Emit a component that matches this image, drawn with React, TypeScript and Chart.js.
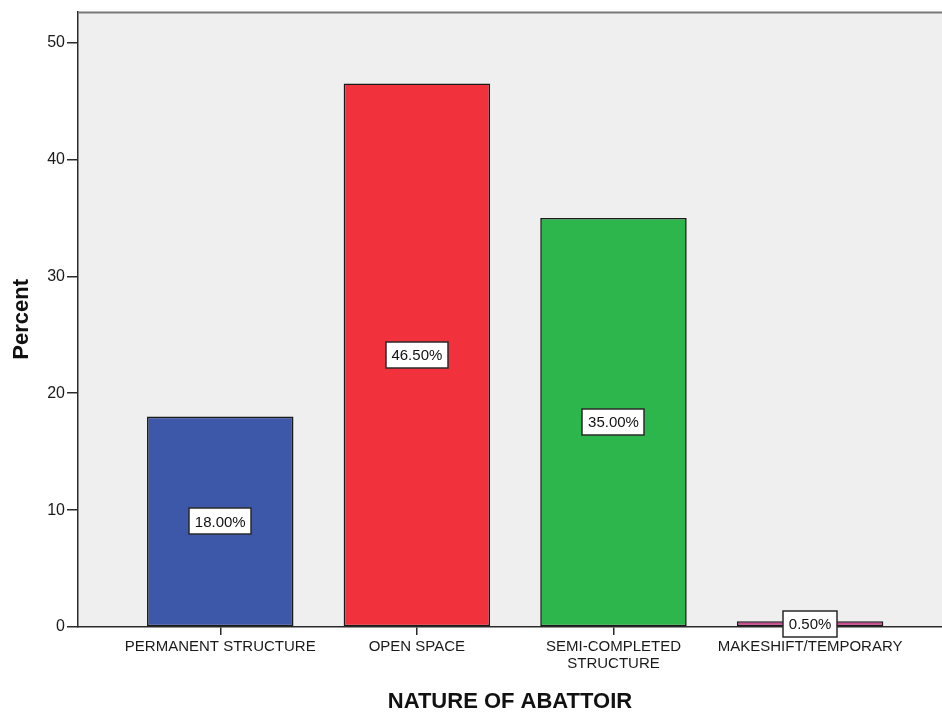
import React, { useEffect, useRef } from "react";
import { Chart, registerables } from "chart.js";

Chart.register(...registerables);

const categories: (string | string[])[] = [
  "PERMANENT STRUCTURE",
  "OPEN SPACE",
  ["SEMI-COMPLETED", "STRUCTURE"],
  "MAKESHIFT/TEMPORARY",
];
const percentValues = [18.0, 46.5, 35.0, 0.5];
const barColors = ["#3d57a9", "#f1313b", "#2db64b", "#cf4690"];
const yTickValues = [0, 10, 20, 30, 40, 50];
const xTitle = "NATURE OF ABATTOIR";
const yTitle = "Percent";

const FONT = "'Liberation Sans', Arial, sans-serif";

export default function App() {
  const ref = useRef<HTMLCanvasElement | null>(null);

  useEffect(() => {
    const canvas = ref.current;
    if (!canvas) return;

    const bgPlugin = {
      id: "plotBg",
      beforeDraw(chart: any) {
        const { ctx, chartArea } = chart;
        ctx.save();
        ctx.fillStyle = "#efefef";
        ctx.fillRect(chartArea.left, chartArea.top, chartArea.right - chartArea.left, chartArea.bottom - chartArea.top);
        ctx.restore();
      },
      afterDraw(chart: any) {
        const { ctx, chartArea } = chart;
        ctx.save();
        ctx.strokeStyle = "#7a7a7a";
        ctx.lineWidth = 2;
        ctx.beginPath();
        ctx.moveTo(chartArea.left, chartArea.top + 1);
        ctx.lineTo(chartArea.right, chartArea.top + 1);
        ctx.stroke();
        ctx.restore();
      },
    };

    const labelPlugin = {
      id: "barLabels",
      afterDatasetsDraw(chart: any) {
        const { ctx } = chart;
        const meta = chart.getDatasetMeta(0);
        ctx.save();
        ctx.font = `15px ${FONT}`;
        ctx.textAlign = "center";
        ctx.textBaseline = "middle";
        meta.data.forEach((el: any, i: number) => {
          const text = percentValues[i].toFixed(2) + "%";
          const cx = el.x;
          const cy = (el.y + el.base) / 2;
          const w = Math.round(ctx.measureText(text).width + 11);
          const h = 26;
          const x0 = Math.round(cx - w / 2);
          const y0 = Math.round(cy - h / 2);
          ctx.fillStyle = "#ffffff";
          ctx.fillRect(x0, y0, w, h);
          ctx.strokeStyle = "#2a2a2a";
          ctx.lineWidth = 1.5;
          ctx.strokeRect(x0, y0, w, h);
          ctx.fillStyle = "#111111";
          ctx.fillText(text, cx, cy + 1);
        });
        ctx.restore();
      },
    };

    const chart = new Chart(canvas, {
      type: "bar",
      data: {
        datasets: [
          {
            data: percentValues.map((v, i) => ({ x: i, y: v })),
            backgroundColor: barColors,
            borderColor: "#1a1a1a",
            borderWidth: 1.6,
            borderSkipped: false,
            categoryPercentage: 1,
            barPercentage: 0.745,
          } as any,
        ],
      },
      options: {
        responsive: false,
        animation: false,
        layout: { padding: { top: 10, left: 0, right: 0, bottom: 0 } },
        plugins: {
          legend: { display: false },
          tooltip: { enabled: false },
        },
        scales: {
          x: {
            type: "linear",
            min: -0.7236,
            max: 3.671,
            offset: false,
            afterBuildTicks: (scale: any) => {
              scale.ticks = categories.map((_, i) => ({ value: i }));
            },
            afterFit: (scale: any) => {
              scale.height = 86;
            },
            grid: {
              offset: false,
              drawOnChartArea: false,
              drawTicks: true,
              tickLength: 8,
              color: "#2a2a2a",
              lineWidth: 1.5,
            },
            border: { display: true, color: "#2a2a2a", width: 1.5 },
            ticks: {
              autoSkip: false,
              maxRotation: 0,
              padding: 4,
              color: "#1a1a1a",
              font: { family: FONT, size: 15, lineHeight: 1.1 },
              callback: (v: any) => categories[Math.round(Number(v))] as any,
            },
            title: {
              display: true,
              text: xTitle,
              color: "#111111",
              font: { family: FONT, size: 22, weight: "bold", lineHeight: 1.0 },
              padding: { top: 0, bottom: 0.5 },
            },
          },
          y: {
            type: "linear",
            min: 0,
            max: 52.65,
            afterBuildTicks: (scale: any) => {
              scale.ticks = yTickValues.map((v) => ({ value: v }));
            },
            afterFit: (scale: any) => {
              scale.width = 78;
            },
            grid: {
              drawOnChartArea: false,
              drawTicks: true,
              tickLength: 11,
              color: "#2a2a2a",
              lineWidth: 1.5,
            },
            border: { display: true, color: "#2a2a2a", width: 1.5 },
            ticks: {
              padding: 2,
              color: "#1a1a1a",
              font: { family: FONT, size: 16 },
            },
            title: {
              display: true,
              text: yTitle,
              color: "#111111",
              font: { family: FONT, size: 22, weight: "bold", lineHeight: 1.2 },
              padding: { top: 9, bottom: 0 },
            },
          },
        },
      },
      plugins: [bgPlugin, labelPlugin],
    });

    return () => chart.destroy();
  }, []);

  return (
    <div style={{ position: "fixed", left: 0, top: 0, width: 942, height: 713, background: "#ffffff" }}>
      <canvas ref={ref} width={942} height={713} style={{ display: "block", width: 942, height: 713 }} />
    </div>
  );
}
